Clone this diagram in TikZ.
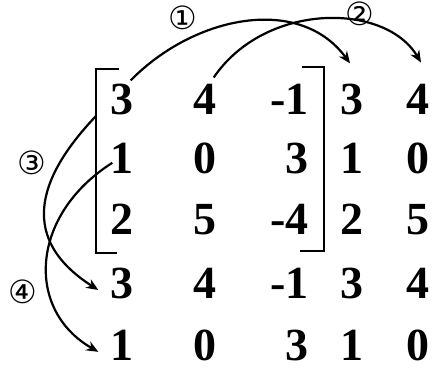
\documentclass[tikz,border=0pt]{standalone}
\usepackage{fontspec}
\setmainfont{Liberation Serif}
\newfontfamily\numfont{Liberation Serif}
\newfontfamily\circfont{DejaVu Sans}
\usetikzlibrary{arrows.meta}

\begin{document}
\begin{tikzpicture}[x=1pt,y=-1pt,
  entry/.style={font=\numfont\bfseries\fontsize{46}{50}\selectfont, inner sep=0pt, anchor=base},
  rentry/.style={entry, anchor=base east},
  swapline/.style={line width=2.2pt, -{Stealth[length=12pt,width=10pt]}},
  brk/.style={line width=2.4pt},
  stepno/.style={font=\circfont\fontsize{32}{32}\selectfont, inner sep=0pt}]
  \useasboundingbox (0,0) rectangle (435,384);

  % the matrix and the two copied columns
  \node[entry] (a11) at (122,114) {3};
  \node[entry] (a12) at (205,114) {4};
  \node[rentry] (a13) at (309,114) {-1};
  \node[entry] (a14) at (352,114) {3};
  \node[entry] (a15) at (418,114) {4};
  \node[entry] (a21) at (122,173) {1};
  \node[entry] (a22) at (205,173) {0};
  \node[rentry] (a23) at (309,173) {3};
  \node[entry] (a24) at (352,173) {1};
  \node[entry] (a25) at (418,173) {0};
  \node[entry] (a31) at (122,234) {2};
  \node[entry] (a32) at (205,234) {5};
  \node[rentry] (a33) at (309,234) {-4};
  \node[entry] (a34) at (352,234) {2};
  \node[entry] (a35) at (418,234) {5};
  % the two copied rows
  \node[entry] (a41) at (122,298) {3};
  \node[entry] (a42) at (205,298) {4};
  \node[rentry] (a43) at (309,298) {-1};
  \node[entry] (a44) at (352,298) {3};
  \node[entry] (a45) at (418,298) {4};
  \node[entry] (a51) at (122,360) {1};
  \node[entry] (a52) at (205,360) {0};
  \node[rentry] (a53) at (309,360) {3};
  \node[entry] (a54) at (352,360) {1};
  \node[entry] (a55) at (418,360) {0};

  % brackets
  \draw[brk] (119,69) -- (96,69) -- (96,253) -- (117,253);
  \draw[brk] (302,67) -- (324,67) -- (324,251) -- (300,251);

  % copying arrows
  \draw[swapline] ([xshift=-3pt,yshift=3pt]a11.north east)
    .. controls (195,15) and (300,-5) .. ([xshift=-2pt,yshift=20pt]a14.north);
  \draw[swapline] ([xshift=-3pt,yshift=6pt]a12.north east)
    .. controls (265,2) and (385,2) .. ([xshift=3pt,yshift=21pt]a15.north);
  \draw[swapline] ([xshift=-14pt,yshift=-1pt]a11.south west)
    .. controls (35,180) and (20,240) .. ([xshift=-12pt,yshift=-7pt]a41.west);
  \draw[swapline] ([xshift=2pt,yshift=-5pt]a21.west)
    .. controls (30,215) and (25,310) .. ([xshift=-12pt,yshift=-7pt]a51.west);

  % step numbers
  \node[stepno] (s1) at (183,18) {①};
  \node[stepno] (s2) at (360,14) {②};
  \node[stepno] (s3) at (32,163) {③};
  \node[stepno] (s4) at (23,292) {④};
\end{tikzpicture}
\end{document}
